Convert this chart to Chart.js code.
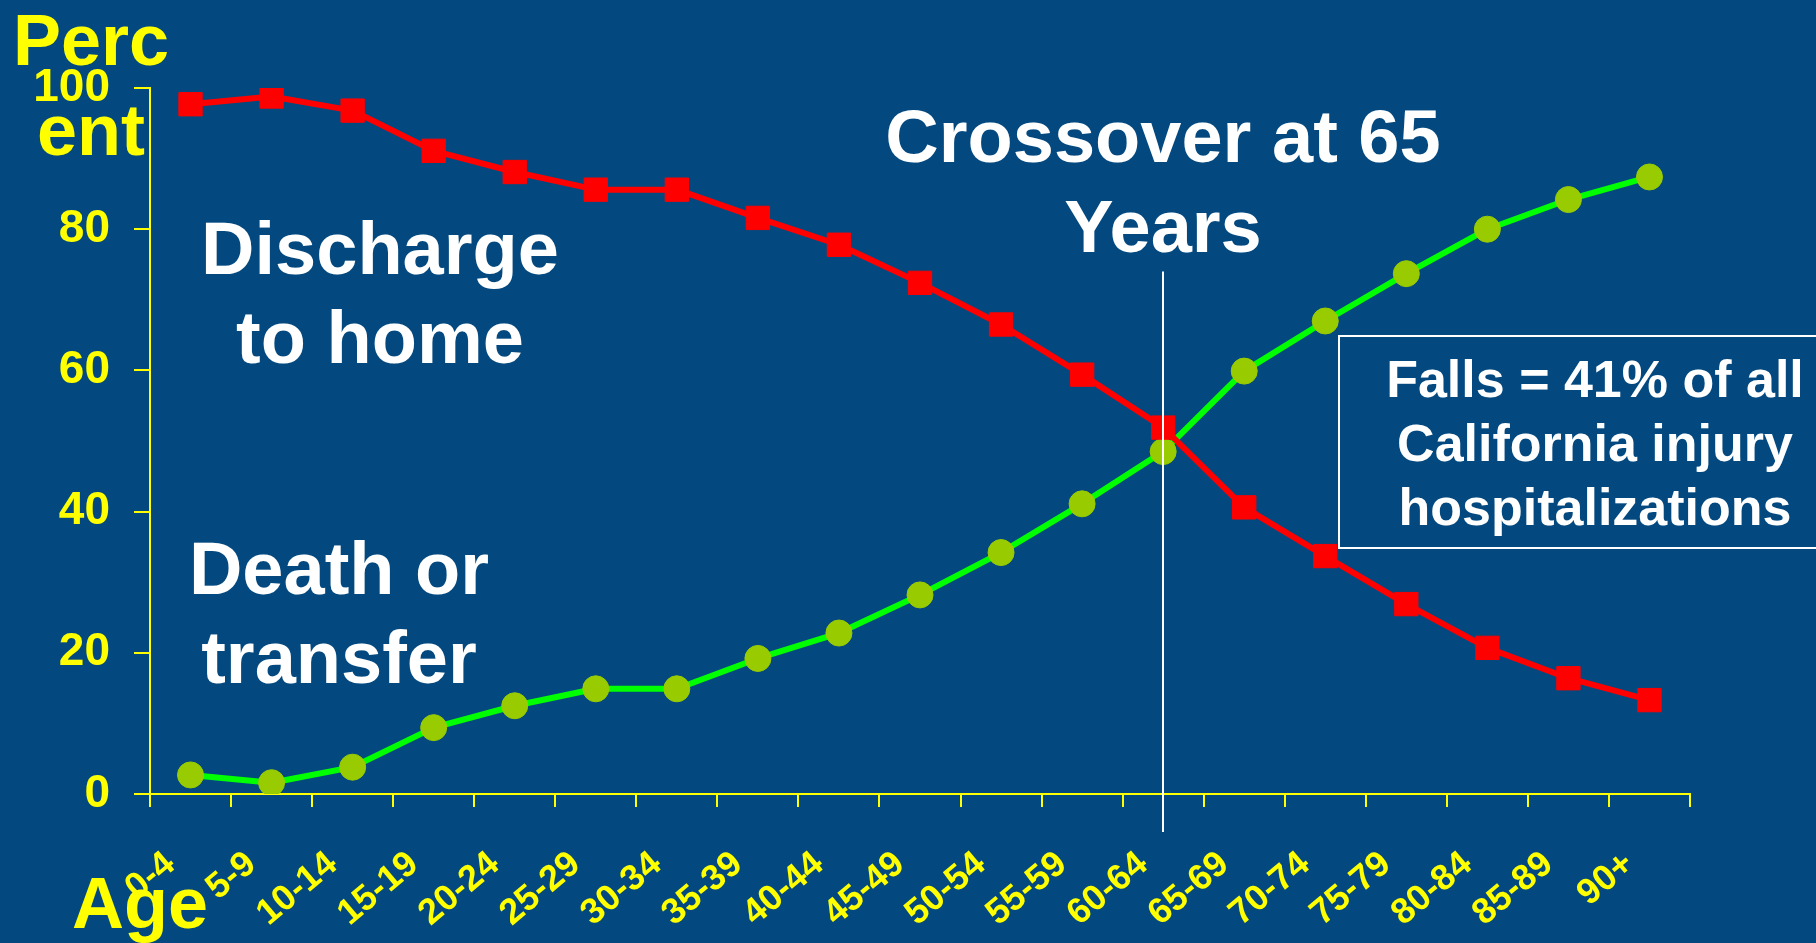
<!DOCTYPE html>
<html>
<head>
<meta charset="utf-8">
<title>Discharge outcome by age</title>
<script src="https://cdn.jsdelivr.net/npm/chart.js@4.4.1/dist/chart.umd.min.js"></script>
<style>
  html, body { margin: 0; padding: 0; background: #03497F; }
  #wrap { position: relative; width: 1816px; height: 943px; }
</style>
</head>
<body>
<div id="wrap"><canvas id="chart"></canvas></div>
<script>
// Age groups along the x axis
const ageGroups = ['0-4', '5-9', '10-14', '15-19', '20-24', '25-29', '30-34', '35-39', '40-44',
  '45-49', '50-54', '55-59', '60-64', '65-69', '70-74', '75-79', '80-84', '85-89', '90+'];

// Percent of fall hospitalizations discharged to home
const dischargeHome = [97.7, 98.8, 96.8, 91.1, 88.1, 85.6, 85.6, 81.6, 77.8, 72.4,
  66.5, 59.4, 51.9, 40.6, 33.7, 26.9, 20.7, 16.4, 13.3];

// Percent ending in death or transfer
const deathTransfer = [2.7, 1.6, 3.8, 9.4, 12.5, 14.9, 14.9, 19.2, 22.8, 28.2,
  34.2, 41.1, 48.5, 59.9, 67.0, 73.7, 80.0, 84.2, 87.4];

// Y axis ticks
const yTicks = [0, 20, 40, 60, 80, 100];

// Age group where the two curves cross
const crossoverGroup = '60-64';

const FONT = '"Liberation Sans", Arial, Helvetica, sans-serif';
const BG = '#03497F';
const YELLOW = '#FFFF00';
const WHITE = '#FFFFFF';

function drawLines(ctx, lines, x, y0, step, size, color, align) {
  ctx.save();
  ctx.font = 'bold ' + size + 'px ' + FONT;
  ctx.fillStyle = color;
  ctx.textAlign = align || 'center';
  ctx.textBaseline = 'alphabetic';
  lines.forEach((t, i) => ctx.fillText(t, x, y0 + i * step));
  ctx.restore();
}

const slideDecor = {
  id: 'slideDecor',
  beforeDraw(chart) {
    const ctx = chart.ctx;
    ctx.save();
    ctx.fillStyle = BG;
    ctx.fillRect(0, 0, chart.width, chart.height);
    ctx.restore();
  },
  afterDatasetsDraw(chart) {
    // vertical marker at the crossover age group
    const ctx = chart.ctx;
    const xs = chart.scales.x, ys = chart.scales.y;
    const x = Math.round(xs.getPixelForValue(ageGroups.indexOf(crossoverGroup)));
    ctx.save();
    ctx.strokeStyle = WHITE;
    ctx.lineWidth = 2;
    ctx.beginPath();
    ctx.moveTo(x, ys.getPixelForValue(74));
    ctx.lineTo(x, ys.bottom + 38);
    ctx.stroke();
    ctx.restore();
  },
  afterDraw(chart) {
    const ctx = chart.ctx;
    // axis titles
    drawLines(ctx, ['Perc', 'ent'], 91, 65, 90, 72, YELLOW);
    drawLines(ctx, ['Age'], 72, 928, 0, 72, YELLOW, 'left');
    // series labels
    drawLines(ctx, ['Discharge', 'to home'], 380, 274, 89, 74, WHITE);
    drawLines(ctx, ['Death or', 'transfer'], 339, 594, 89, 74, WHITE);
    drawLines(ctx, ['Crossover at 65', 'Years'], 1163, 162, 90, 74, WHITE);
    // boxed note
    ctx.save();
    ctx.strokeStyle = WHITE;
    ctx.lineWidth = 2;
    ctx.strokeRect(1339, 336, 520, 212);
    ctx.restore();
    drawLines(ctx, ['Falls = 41% of all', 'California injury', 'hospitalizations'], 1595, 397, 64, 52, WHITE);
  }
};

new Chart(document.getElementById('chart'), {
  type: 'line',
  data: {
    labels: ageGroups,
    datasets: [
      {
        label: 'Discharge to home',
        data: dischargeHome,
        borderColor: '#FF0000',
        backgroundColor: '#FF0000',
        borderWidth: 6,
        pointStyle: 'rect',
        pointRadius: 16.5,
        pointBorderWidth: 1,
        pointBorderColor: '#FF0000',
        pointBackgroundColor: '#FF0000',
        tension: 0,
        order: 1
      },
      {
        label: 'Death or transfer',
        data: deathTransfer,
        borderColor: '#00FF00',
        backgroundColor: '#99CC00',
        borderWidth: 6,
        pointStyle: 'circle',
        pointRadius: 13,
        pointBorderWidth: 1,
        pointBorderColor: '#99CC00',
        pointBackgroundColor: '#99CC00',
        tension: 0,
        order: 2
      }
    ]
  },
  options: {
    responsive: true,
    maintainAspectRatio: false,
    animation: false,
    layout: { padding: { top: 88, right: 126, left: 0, bottom: 0 } },
    plugins: {
      legend: { display: false },
      tooltip: { enabled: false }
    },
    elements: { line: { borderCapStyle: 'round', borderJoinStyle: 'round' } },
    scales: {
      x: {
        type: 'category',
        offset: true,
        border: { display: true, color: YELLOW, width: 2 },
        grid: {
          offset: true,
          drawOnChartArea: false,
          drawTicks: true,
          tickLength: 13,
          tickWidth: 2,
          color: YELLOW,
          lineWidth: 2
        },
        ticks: {
          autoSkip: false,
          minRotation: 40,
          maxRotation: 40,
          padding: 36,
          labelOffset: -20,
          color: YELLOW,
          font: { family: FONT, size: 36, weight: 'bold' }
        },
        afterFit(scale) { scale.height = 149; }
      },
      y: {
        min: 0,
        max: 100,
        afterBuildTicks(scale) { scale.ticks = yTicks.map(v => ({ value: v })); },
        border: { display: true, color: YELLOW, width: 2 },
        grid: {
          drawOnChartArea: false,
          drawTicks: true,
          tickLength: 16,
          tickWidth: 2,
          color: YELLOW,
          lineWidth: 2
        },
        ticks: {
          padding: 24,
          color: YELLOW,
          font: { family: FONT, size: 46, weight: 'bold' }
        },
        afterFit(scale) { scale.width = 150; }
      }
    }
  },
  plugins: [slideDecor]
});
</script>
</body>
</html>
